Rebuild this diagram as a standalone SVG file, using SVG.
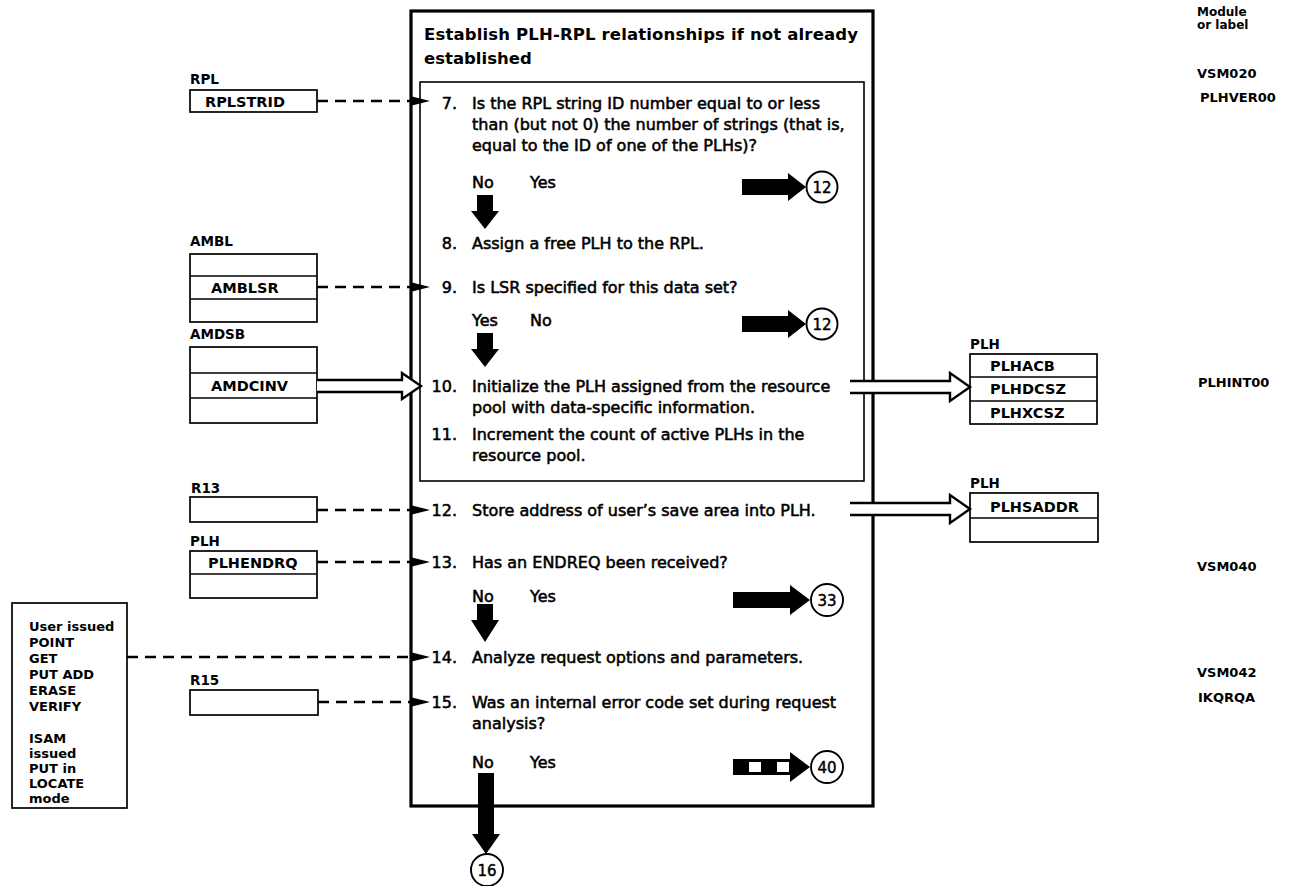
<svg xmlns="http://www.w3.org/2000/svg" width="1289" height="886" viewBox="0 0 1289 886">
  <style>
    .body { font-family: "DejaVu Sans", "Liberation Sans", sans-serif; font-size: 16px; fill: #000; stroke: #000; stroke-width: 0.55px; }
    .num { font-family: "DejaVu Sans", "Liberation Sans", sans-serif; font-size: 16px; fill: #000; stroke: #000; stroke-width: 0.55px; text-anchor: end; }
    .title { font-family: "DejaVu Sans", "Liberation Sans", sans-serif; font-size: 16.5px; font-weight: bold; fill: #000; }
    .lbl { font-family: "DejaVu Sans", "Liberation Sans", sans-serif; font-size: 13.5px; font-weight: bold; fill: #000; }
    .fld { font-family: "DejaVu Sans", "Liberation Sans", sans-serif; font-size: 14.5px; font-weight: bold; fill: #000; }
    .mod { font-family: "DejaVu Sans", "Liberation Sans", sans-serif; font-size: 13px; font-weight: bold; fill: #000; }
    .hdr { font-family: "DejaVu Sans", "Liberation Sans", sans-serif; font-size: 12px; font-weight: bold; fill: #000; }
    .usr { font-family: "DejaVu Sans", "Liberation Sans", sans-serif; font-size: 13px; font-weight: bold; fill: #000; }
    .circ { font-family: "DejaVu Sans", "Liberation Sans", sans-serif; font-size: 15px; fill: #000; stroke: #000; stroke-width: 0.45px; text-anchor: middle; }
    .box { fill: #fff; stroke: #000; stroke-width: 1.7; }
    .row { stroke: #000; stroke-width: 1.7; }
    .outer { fill: none; stroke: #000; stroke-width: 3.2; }
    .inner { fill: none; stroke: #000; stroke-width: 1.6; }
    .dash { fill: none; stroke: #000; stroke-width: 2.4; stroke-dasharray: 11 7; }
    .tip { fill: #000; }
    .solid { fill: #000; }
    .hollow-fill { fill: #fff; stroke: none; }
    .hollow-line { fill: none; stroke: #000; stroke-width: 2.4; stroke-linejoin: miter; }
    .ring { fill: #fff; stroke: #000; stroke-width: 1.9; }
  </style>

  <!-- Column heading and module names -->
  <g id="module-column">
    <text class="hdr" x="1197" y="16">Module</text>
    <text class="hdr" x="1197" y="29">or label</text>
    <text class="mod" x="1197" y="78">VSM020</text>
    <text class="mod" x="1200" y="102">PLHVER00</text>
    <text class="mod" x="1198" y="387">PLHINT00</text>
    <text class="mod" x="1197" y="571">VSM040</text>
    <text class="mod" x="1197" y="677">VSM042</text>
    <text class="mod" x="1198" y="702">IKQRQA</text>
  </g>

  <!-- Process block -->
  <g id="process">
    <rect class="outer" x="411" y="11" width="462" height="795"/>
    <rect class="inner" x="420" y="82" width="444" height="399"/>
    <text class="title" x="424" y="40" textLength="434" lengthAdjust="spacing">Establish PLH-RPL relationships if not already</text>
    <text class="title" x="424" y="64">established</text>

    <g id="step7">
      <text class="num" x="457" y="109">7.</text>
      <text class="body" x="472" y="109">Is the RPL string ID number equal to or less</text>
      <text class="body" x="472" y="130">than (but not 0) the number of strings (that is,</text>
      <text class="body" x="472" y="151">equal to the ID of one of the PLHs)?</text>
      <text class="body" x="472" y="188">No</text>
      <text class="body" x="530" y="188">Yes</text>
    </g>
    <g id="step8">
      <text class="num" x="457" y="249">8.</text>
      <text class="body" x="472" y="249">Assign a free PLH to the RPL.</text>
    </g>
    <g id="step9">
      <text class="num" x="457" y="293">9.</text>
      <text class="body" x="472" y="293">Is LSR specified for this data set?</text>
      <text class="body" x="472" y="326">Yes</text>
      <text class="body" x="530" y="326">No</text>
    </g>
    <g id="step10">
      <text class="num" x="457" y="392">10.</text>
      <text class="body" x="472" y="392">Initialize the PLH assigned from the resource</text>
      <text class="body" x="472" y="413">pool with data-specific information.</text>
    </g>
    <g id="step11">
      <text class="num" x="457" y="440">11.</text>
      <text class="body" x="472" y="440">Increment the count of active PLHs in the</text>
      <text class="body" x="472" y="461">resource pool.</text>
    </g>
    <g id="step12">
      <text class="num" x="457" y="516">12.</text>
      <text class="body" x="472" y="516">Store address of user’s save area into PLH.</text>
    </g>
    <g id="step13">
      <text class="num" x="457" y="568">13.</text>
      <text class="body" x="472" y="568">Has an ENDREQ been received?</text>
      <text class="body" x="472" y="602">No</text>
      <text class="body" x="530" y="602">Yes</text>
    </g>
    <g id="step14">
      <text class="num" x="457" y="663">14.</text>
      <text class="body" x="472" y="663">Analyze request options and parameters.</text>
    </g>
    <g id="step15">
      <text class="num" x="457" y="708">15.</text>
      <text class="body" x="472" y="708">Was an internal error code set during request</text>
      <text class="body" x="472" y="729">analysis?</text>
      <text class="body" x="472" y="768">No</text>
      <text class="body" x="530" y="768">Yes</text>
    </g>
  </g>

  <!-- Input data areas -->
  <g id="rpl">
    <text class="lbl" x="190" y="84">RPL</text>
    <rect class="box" x="190" y="90" width="127" height="22"/>
    <text class="fld" x="205" y="107">RPLSTRID</text>
  </g>
  <g id="ambl">
    <text class="lbl" x="190" y="246">AMBL</text>
    <rect class="box" x="190" y="254" width="127" height="68"/>
    <line class="row" x1="190" y1="276" x2="317" y2="276"/>
    <line class="row" x1="190" y1="299" x2="317" y2="299"/>
    <text class="fld" x="211" y="293">AMBLSR</text>
  </g>
  <g id="amdsb">
    <text class="lbl" x="190" y="339">AMDSB</text>
    <rect class="box" x="190" y="347" width="127" height="76"/>
    <line class="row" x1="190" y1="373" x2="317" y2="373"/>
    <line class="row" x1="190" y1="398" x2="317" y2="398"/>
    <text class="fld" x="211" y="391">AMDCINV</text>
  </g>
  <g id="r13">
    <text class="lbl" x="191" y="493">R13</text>
    <rect class="box" x="190" y="497" width="127" height="25"/>
  </g>
  <g id="plh-endrq">
    <text class="lbl" x="190" y="546">PLH</text>
    <rect class="box" x="190" y="551" width="127" height="47"/>
    <line class="row" x1="190" y1="574" x2="317" y2="574"/>
    <text class="fld" x="208" y="568">PLHENDRQ</text>
  </g>
  <g id="requests">
    <rect class="box" x="12" y="603" width="115" height="205"/>
    <text class="usr" x="29" y="631">User issued</text>
    <text class="usr" x="29" y="647">POINT</text>
    <text class="usr" x="29" y="663">GET</text>
    <text class="usr" x="29" y="679">PUT ADD</text>
    <text class="usr" x="29" y="695">ERASE</text>
    <text class="usr" x="29" y="711">VERIFY</text>
    <text class="usr" x="29" y="743">ISAM</text>
    <text class="usr" x="29" y="758">issued</text>
    <text class="usr" x="29" y="773">PUT in</text>
    <text class="usr" x="29" y="788">LOCATE</text>
    <text class="usr" x="29" y="803">mode</text>
  </g>
  <g id="r15">
    <text class="lbl" x="190" y="685">R15</text>
    <rect class="box" x="190" y="690" width="128" height="25"/>
  </g>

  <!-- Output data areas -->
  <g id="plh-fields">
    <text class="lbl" x="970" y="349">PLH</text>
    <rect class="box" x="970" y="354" width="127" height="70"/>
    <line class="row" x1="970" y1="377" x2="1097" y2="377"/>
    <line class="row" x1="970" y1="401" x2="1097" y2="401"/>
    <text class="fld" x="990" y="371">PLHACB</text>
    <text class="fld" x="990" y="394">PLHDCSZ</text>
    <text class="fld" x="990" y="418">PLHXCSZ</text>
  </g>
  <g id="plh-saddr">
    <text class="lbl" x="970" y="488">PLH</text>
    <rect class="box" x="970" y="493" width="128" height="49"/>
    <line class="row" x1="970" y1="518" x2="1098" y2="518"/>
    <text class="fld" x="990" y="512">PLHSADDR</text>
  </g>

  <!-- Off-page connectors -->
  <g id="conn-12a">
    <circle class="ring" cx="822" cy="187" r="15.5"/>
    <text class="circ" x="822" y="192.5">12</text>
  </g>
  <g id="conn-12b">
    <circle class="ring" cx="822" cy="324" r="15.5"/>
    <text class="circ" x="822" y="329.5">12</text>
  </g>
  <g id="conn-33">
    <circle class="ring" cx="827" cy="600" r="16"/>
    <text class="circ" x="827" y="605.5">33</text>
  </g>
  <g id="conn-40">
    <circle class="ring" cx="827" cy="767" r="16"/>
    <text class="circ" x="827" y="772.5">40</text>
  </g>
  <g id="conn-16">
    <circle class="ring" cx="487" cy="870" r="16"/>
    <text class="circ" x="487" y="875.5">16</text>
  </g>

  <!-- Connectors -->
  <g id="connectors">
    <!-- dashed data references into the steps -->
    <line class="dash" x1="317" y1="101" x2="414" y2="101"/>
    <path class="tip" d="M412 96.5 L430 101 L412 105.5 Z"/>
    <line class="dash" x1="317" y1="287" x2="414" y2="287"/>
    <path class="tip" d="M412 282.5 L430 287 L412 291.5 Z"/>
    <line class="dash" x1="317" y1="510" x2="414" y2="510"/>
    <path class="tip" d="M412 505.5 L430 510 L412 514.5 Z"/>
    <line class="dash" x1="317" y1="562" x2="414" y2="562"/>
    <path class="tip" d="M412 557.5 L430 562 L412 566.5 Z"/>
    <line class="dash" x1="127" y1="657" x2="414" y2="657"/>
    <path class="tip" d="M412 652.5 L430 657 L412 661.5 Z"/>
    <line class="dash" x1="318" y1="702" x2="414" y2="702"/>
    <path class="tip" d="M412 697.5 L430 702 L412 706.5 Z"/>

    <!-- hollow data-flow arrows -->
    <path class="hollow-fill" d="M317 380 H402 V373 L421 386 L402 399 V392 H317 Z"/>
    <path class="hollow-line" d="M317 380 H402 V373 L421 386 L402 399 V392 H317"/>
    <path class="hollow-fill" d="M850 381 H950 V373 L970 387 L950 401 V393 H850 Z"/>
    <path class="hollow-line" d="M850 381 H950 V373 L970 387 L950 401 V393 H850"/>
    <path class="hollow-fill" d="M850 503 H950 V495 L970 509 L950 523 V515 H850 Z"/>
    <path class="hollow-line" d="M850 503 H950 V495 L970 509 L950 523 V515 H850"/>

    <!-- branch arrows to off-page connectors -->
    <path class="solid" d="M742 179 H788 V173 L806 187 L788 201 V195 H742 Z"/>
    <path class="solid" d="M742 316 H788 V310 L806 324 L788 338 V332 H742 Z"/>
    <path class="solid" d="M733 592 H790 V585 L810 600 L790 615 V608 H733 Z"/>
    <path class="solid" d="M733 759 H790 V752 L810 767 L790 782 V775 H733 Z"/>
    <rect x="749" y="762" width="12" height="10" fill="#fff"/>
    <rect x="777" y="762" width="12" height="10" fill="#fff"/>

    <!-- downward flow arrows -->
    <path class="solid" d="M477 195 V211 H471 L485 229 L499 211 H493 V195 Z"/>
    <path class="solid" d="M477 333 V349 H471 L485 367 L499 349 H493 V333 Z"/>
    <path class="solid" d="M477 604 V620 H471 L485 642 L499 620 H493 V604 Z"/>
    <path class="solid" d="M478 773 V834 H472 L486 854 L500 834 H494 V773 Z"/>
  </g>
</svg>
